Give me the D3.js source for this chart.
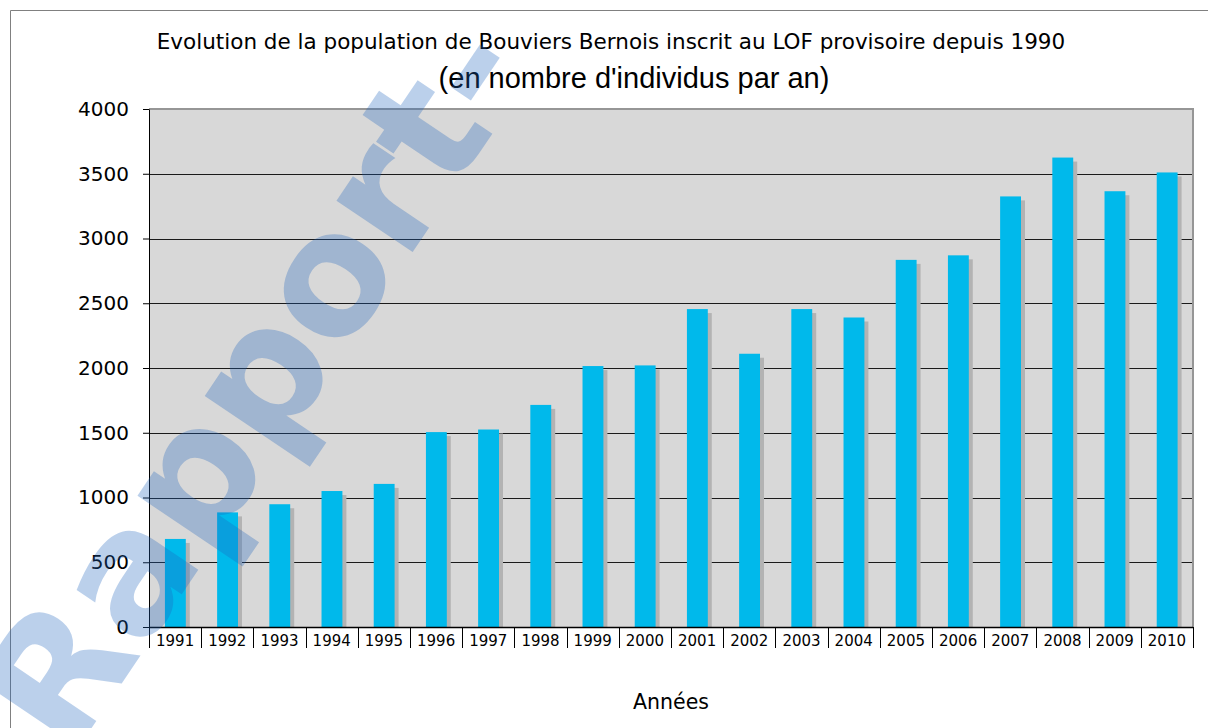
<!DOCTYPE html>
<html>
<head>
<meta charset="utf-8">
<script src="https://cdn.jsdelivr.net/npm/d3@7"></script>
<style>
  body { margin: 0; background: #fff; }
  svg { display: block; }
</style>
</head>
<body>
<div id="canvas"></div>
<script>
"use strict"

// values
const years = ["1991", "1992", "1993", "1994", "1995", "1996", "1997", "1998", "1999", "2000",
    "2001", "2002", "2003", "2004", "2005", "2006", "2007", "2008", "2009", "2010"];
const counts = [680, 885, 948, 1050, 1105, 1505, 1525, 1715, 2015, 2020,
    2455, 2110, 2455, 2390, 2835, 2870, 3325, 3625, 3365, 3510];
const yTicks = [0, 500, 1000, 1500, 2000, 2500, 3000, 3500, 4000];

const W = 1208, H = 728;
const plot = { left: 149, right: 1193, top: 109, bottom: 627 };

let svg = d3.select("#canvas")
    .append("svg")
    .attr("width", W)
    .attr("height", H);

// outer chart border
svg.append("path")
    .attr("d", `M10.5,${H} V10.5 H${W}`)
    .attr("fill", "none")
    .attr("stroke", "#808080");

let x = d3.scaleBand().domain(years).range([plot.left, plot.right]).padding(0);
let y = d3.scaleLinear().domain([0, 4000]).range([plot.bottom, plot.top]);

// grey plot area
svg.append("rect")
    .attr("x", plot.left)
    .attr("y", plot.top)
    .attr("width", plot.right - plot.left)
    .attr("height", plot.bottom - plot.top)
    .attr("fill", "#d8d8d8");

// gridlines
svg.append("g")
    .selectAll("line")
    .data(yTicks.filter(d => d > 0 && d < 4000))
    .join("line")
    .attr("x1", plot.left)
    .attr("x2", plot.right)
    .attr("y1", d => Math.round(y(d)) + 0.5)
    .attr("y2", d => Math.round(y(d)) + 0.5)
    .attr("stroke", "#1a1a1a");

// plot area frame (top + right, grey)
svg.append("path")
    .attr("d", `M${plot.left},${plot.top} H${plot.right} V${plot.bottom}`)
    .attr("fill", "none")
    .attr("stroke", "#969696")
    .attr("stroke-width", 2);

const bw = x.bandwidth();
const barX = d => x(d) + bw * 0.305;
const barW = bw * 0.4;

// shadows
svg.append("g")
    .selectAll("rect")
    .data(years)
    .join("rect")
    .attr("x", d => barX(d) + 4)
    .attr("y", (d, i) => y(counts[i]) + 4)
    .attr("width", barW)
    .attr("height", (d, i) => plot.bottom - y(counts[i]) - 4)
    .attr("fill", "#b3b3b3");

// bars
svg.append("g")
    .selectAll("rect")
    .data(years)
    .join("rect")
    .attr("x", d => barX(d))
    .attr("y", (d, i) => y(counts[i]))
    .attr("width", barW)
    .attr("height", (d, i) => plot.bottom - y(counts[i]))
    .attr("fill", "#00b9eb");

// y axis
let yAxis = svg.append("g")
    .attr("transform", `translate(${plot.left},0)`)
    .call(d3.axisLeft(y).tickValues(yTicks).tickSize(6).tickSizeOuter(0).tickFormat(d3.format("d")));
yAxis.select(".domain").attr("stroke", "#000");
yAxis.selectAll(".tick line").attr("stroke", "#000");
yAxis.selectAll(".tick text")
    .attr("x", -20)
    .attr("fill", "#000")
    .style("font-family", "'DejaVu Sans', Verdana, sans-serif")
    .style("font-size", "20px");

// x axis: separators between categories, labels centred
let xg = svg.append("g");
xg.append("line")
    .attr("x1", plot.left)
    .attr("x2", plot.right)
    .attr("y1", plot.bottom + 0.5)
    .attr("y2", plot.bottom + 0.5)
    .attr("stroke", "#000")
    .attr("stroke-width", 1.5);
xg.selectAll(".sep")
    .data(years.concat(["end"]))
    .join("line")
    .attr("class", "sep")
    .attr("x1", (d, i) => Math.round(plot.left + i * bw) + 0.5)
    .attr("x2", (d, i) => Math.round(plot.left + i * bw) + 0.5)
    .attr("y1", plot.bottom)
    .attr("y2", plot.bottom + 21)
    .attr("stroke", "#000");
xg.selectAll(".lbl")
    .data(years)
    .join("text")
    .attr("class", "lbl")
    .attr("x", d => x(d) + bw / 2)
    .attr("y", 646)
    .attr("text-anchor", "middle")
    .style("font-family", "'DejaVu Sans', Verdana, sans-serif")
    .style("font-size", "15px")
    .text(d => d);

// titles
svg.append("text")
    .attr("x", 611)
    .attr("y", 49)
    .attr("text-anchor", "middle")
    .style("font-family", "'DejaVu Sans', Verdana, sans-serif")
    .style("font-size", "21.5px")
    .text("Evolution de la population de Bouviers Bernois inscrit au LOF provisoire depuis 1990");

svg.append("text")
    .attr("x", 634)
    .attr("y", 88)
    .attr("text-anchor", "middle")
    .style("font-family", "'Liberation Sans', Arial, sans-serif")
    .style("font-size", "29px")
    .text("(en nombre d'individus par an)");

svg.append("text")
    .attr("x", 671)
    .attr("y", 709)
    .attr("text-anchor", "middle")
    .style("font-family", "'DejaVu Sans', Verdana, sans-serif")
    .style("font-size", "20.5px")
    .text("Années");

// watermark over the chart
svg.append("text")
    .attr("transform", "translate(70,760) rotate(-56)")
    .attr("fill", "rgb(30,100,190)")
    .attr("fill-opacity", 0.3)
    .style("font-family", "'DejaVu Sans', Verdana, sans-serif")
    .style("font-weight", "bold")
    .style("font-size", "168px")
    .text("Rapport-");
</script>
</body>
</html>
